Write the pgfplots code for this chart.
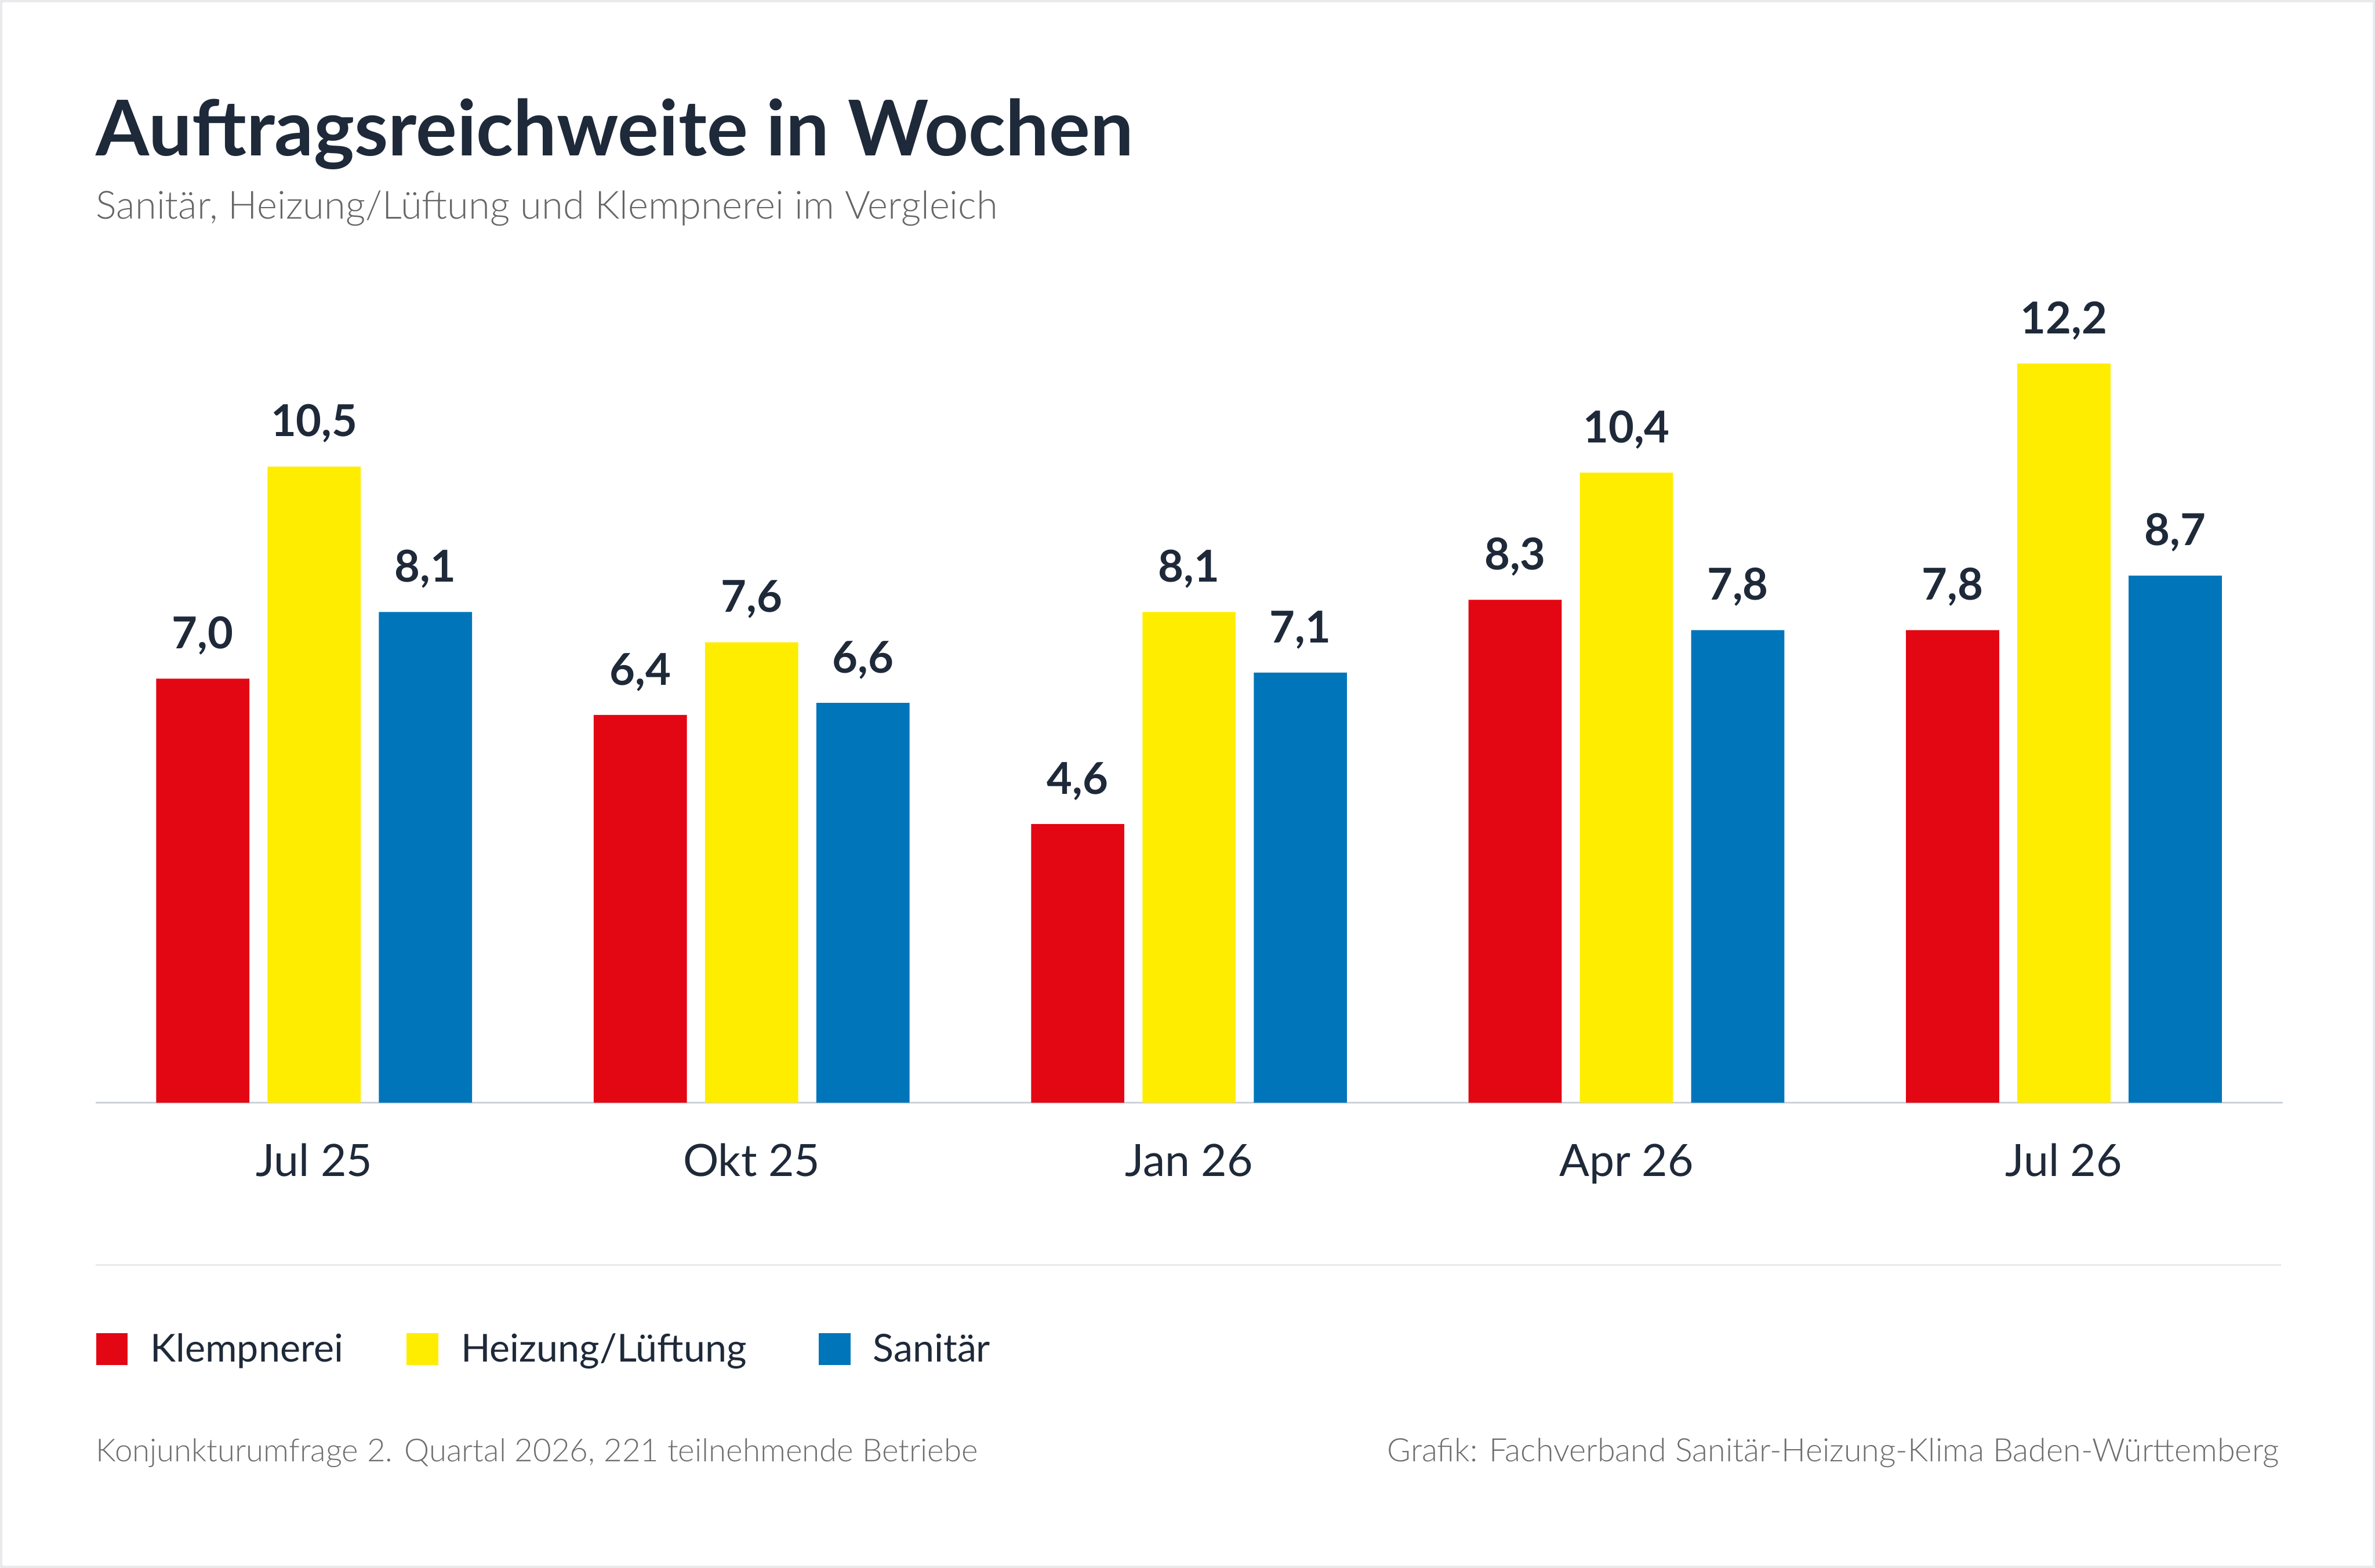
\documentclass[border=0pt]{standalone}
\usepackage{pgfplots}
\pgfplotsset{compat=1.18}
\usepackage{fontspec}
\setmainfont{Lato}
\newfontfamily\latolight{Lato Light}
\definecolor{cred}{HTML}{E30613}
\definecolor{cyellow}{HTML}{FFED00}
\definecolor{cblue}{HTML}{0075BA}
\definecolor{navy}{HTML}{1E2939}
\definecolor{subgray}{HTML}{666666}
\definecolor{footgray}{HTML}{6E6E6E}
\definecolor{axisgray}{HTML}{CDD1D8}
\definecolor{sepgray}{HTML}{E8E9ED}
\definecolor{framegray}{HTML}{E8EAED}
\begin{document}
\begin{tikzpicture}
\useasboundingbox (-31.5pt,-153.5pt) rectangle (752.5pt,364pt);
\fill[white] (-31.5pt,-153.5pt) rectangle (752.5pt,364pt);
\draw[framegray, line width=0.75pt] (-31.125pt,-153.125pt) rectangle (752.125pt,363.625pt);
\begin{axis}[
  at={(0pt,0pt)}, anchor=south west,
  scale only axis, width=722pt, height=280pt,
  xmin=-0.5, xmax=4.5, ymin=0, ymax=14,
  enlargelimits=false, clip=false,
  ybar=6pt, bar width=30.75pt,
  axis x line=bottom, axis y line=none,
  x axis line style={draw=axisgray, line width=0.67pt, -},
  xtick={0,1,2,3,4},
  xticklabels={Jul 25, Okt 25, Jan 26, Apr 26, Jul 26},
  major tick length=0pt,
  xticklabel style={anchor=base, yshift=-24.25pt, font=\fontsize{14.7}{14.7}\selectfont, text=navy, inner sep=0pt},
  /pgf/number format/assume math mode=true,
  nodes near coords={\pgfmathprintnumber[use comma,fixed,fixed zerofill,precision=1,assume math mode=true]{\pgfplotspointmeta}},
  nodes near coords style={anchor=base, yshift=9.9pt, font=\bfseries\fontsize{14.5}{14.5}\selectfont, text=navy, inner sep=0pt},
  legend columns=3,
  legend style={at={(axis description cs:0,0)}, anchor=south west, yshift=-86.75pt, draw=none, fill=none, inner sep=0pt, column sep=0pt, cells={anchor=base west}, nodes={inner sep=0pt, text depth=0pt, font=\fontsize{12.7}{12.7}\selectfont, text=navy}},
  every axis plot post/.append style={legend image code/.code={\fill[##1, draw=none] (0pt,-1pt) rectangle (10.5pt,9.5pt); \path (18pt,0pt);}},
]
\addplot[fill=cred, draw=none] coordinates {(0,7.0) (1,6.4) (2,4.6) (3,8.3) (4,7.8)};
\addplot[fill=cyellow, draw=none] coordinates {(0,10.5) (1,7.6) (2,8.1) (3,10.4) (4,12.2)};
\addplot[fill=cblue, draw=none] coordinates {(0,8.1) (1,6.6) (2,7.1) (3,7.8) (4,8.7)};
\legend{\makebox[84.5pt][l]{Klempnerei}, \makebox[118pt][l]{Heizung/Lüftung}, Sanitär}
\end{axis}
\draw[sepgray, line width=0.6pt] (0pt,-53.5pt) -- (721.5pt,-53.5pt);
\node[anchor=base west, inner sep=0pt, text=navy, font=\bfseries\fontsize{25.4}{25.4}\selectfont] at (0pt,312.65pt) {Auftragsreichweite in Wochen};
\node[anchor=base west, inner sep=0pt, text=subgray, font=\latolight\fontsize{12.8}{12.8}\selectfont] at (0pt,291.75pt) {Sanitär, Heizung/Lüftung und Klempnerei im Vergleich};
\node[anchor=base west, inner sep=0pt, text=footgray, font=\latolight\fontsize{10.45}{10.45}\selectfont] at (0pt,-118.5pt) {Konjunkturumfrage 2. Quartal 2026, 221 teilnehmende Betriebe};
\node[anchor=base east, inner sep=0pt, text=footgray, font=\latolight\fontsize{10.65}{10.65}\selectfont] at (721pt,-118.5pt) {Grafik: Fachverband Sanitär-Heizung-Klima Baden-Württemberg};
\end{tikzpicture}
\end{document}
